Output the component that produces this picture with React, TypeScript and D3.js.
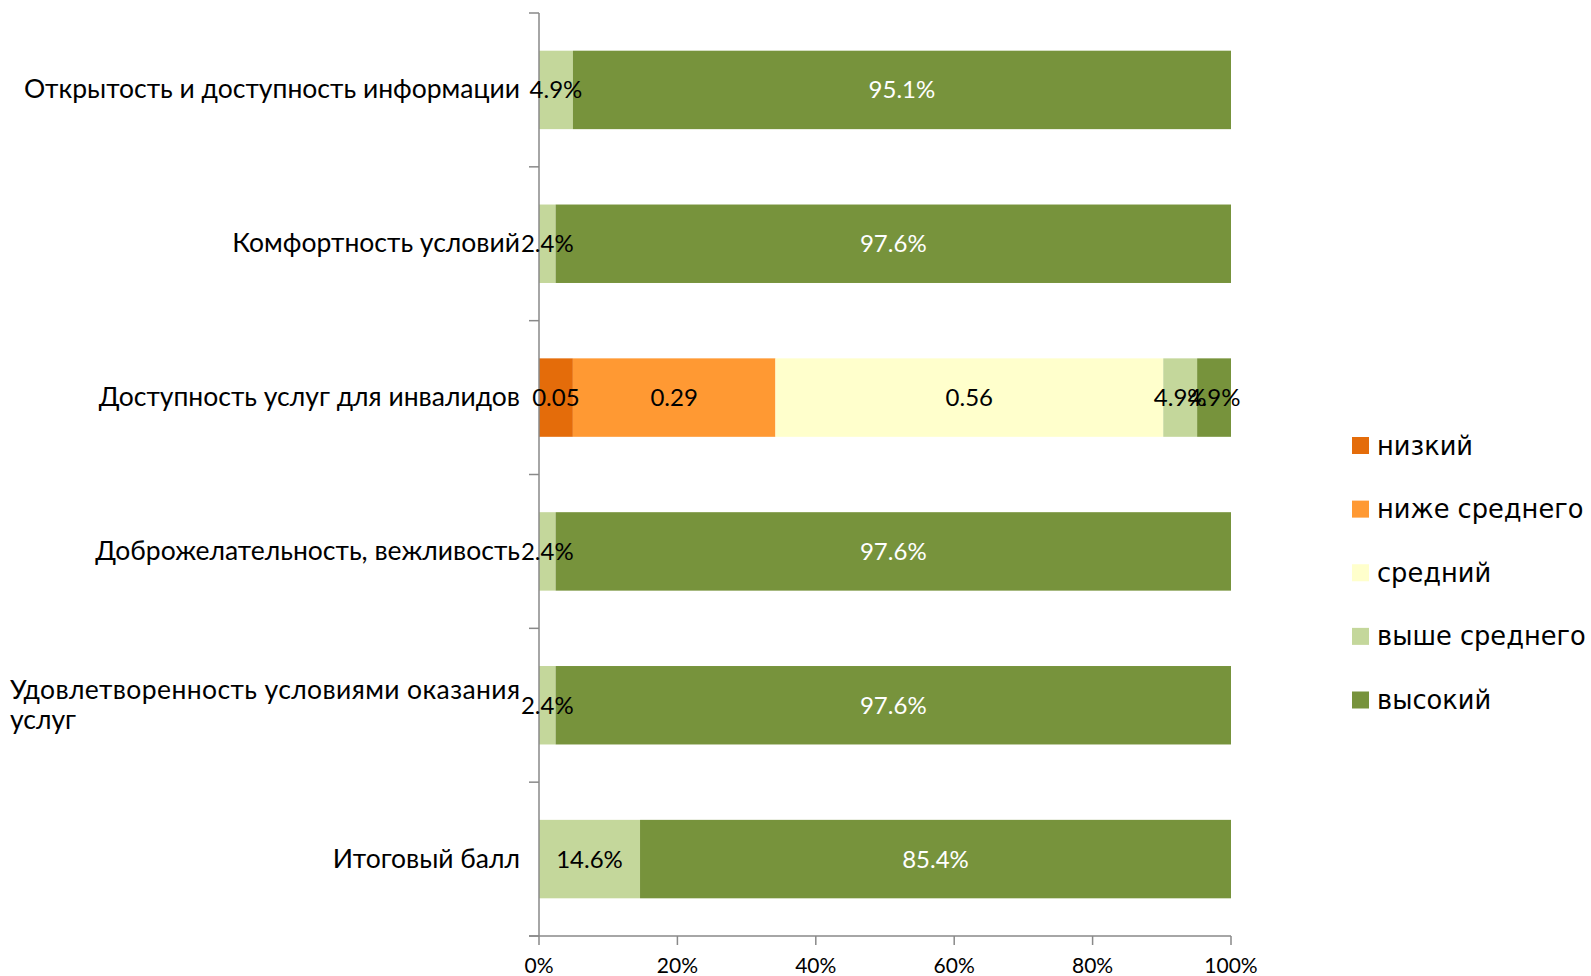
import React from 'react';
import * as d3 from 'd3';

const categories = [
  'Открытость и доступность информации',
  'Комфортность условий',
  'Доступность услуг для инвалидов',
  'Доброжелательность, вежливость',
  'Удовлетворенность условиями оказания\nуслуг',
  'Итоговый балл',
];
const seriesNames = ['низкий', 'ниже среднего', 'средний', 'выше среднего', 'высокий'];
const seriesColors = ['#E46C0A', '#FF9933', '#FFFFCC', '#C4D79B', '#77933C'];
const seriesFormats = ['.2f', '.2f', '.2f', '.1%', '.1%'];
const low = [0, 0, 0.049, 0, 0, 0];
const belowAvg = [0, 0, 0.293, 0, 0, 0];
const average = [0, 0, 0.561, 0, 0, 0];
const aboveAvg = [0.049, 0.024, 0.049, 0.024, 0.024, 0.146];
const high = [0.951, 0.976, 0.049, 0.976, 0.976, 0.854];
const xTicks = [0, 0.2, 0.4, 0.6, 0.8, 1];

const W = 1591;
const H = 976;
const margin = { left: 539, right: 360, top: 13, bottom: 40 };
const CAT_SIZE = 26.5;
const catFontFamily = 'Lato, Carlito, "Liberation Sans", sans-serif';
const legendFont = '"DejaVu Sans", sans-serif';
const AXIS = '#898989';

export default function App() {
  const series = [low, belowAvg, average, aboveAvg, high];
  const rows = categories.map((c, i) => {
    const vals = series.map((s) => s[i]);
    const total = d3.sum(vals);
    let acc = 0;
    return {
      cat: c,
      segs: vals.map((v, k) => {
        const x0 = acc / total;
        acc += v;
        return { k, v, x0, x1: acc / total };
      }),
    };
  });

  const x = d3.scaleLinear().domain([0, 1]).range([margin.left, 1231]);
  const y = d3
    .scaleBand<string>()
    .domain(categories)
    .range([margin.top, H - margin.bottom])
    .paddingInner(0.49)
    .paddingOuter(0.245);
  const step = y.step();
  const yBottom = H - margin.bottom;
  const boundaries = d3.range(categories.length + 1).map((i) => margin.top + i * step);
  const labelRight = 520;
  const labelLeft = 10;

  const legendY = d3
    .scalePoint<string>()
    .domain(seriesNames)
    .range([445.5, 700]);

  return (
    <svg
      width={W}
      height={H}
      style={{ position: 'absolute', left: 0, top: 0, background: '#fff' }}
    >
      {/* bars */}
      {rows.map((r) =>
        r.segs
          .filter((s) => s.v > 0)
          .map((s) => (
            <rect
              key={r.cat + s.k}
              x={x(s.x0)}
              y={y(r.cat)}
              width={x(s.x1) - x(s.x0)}
              height={y.bandwidth()}
              fill={seriesColors[s.k]}
            />
          ))
      )}
      {/* axes */}
      <line x1={margin.left} x2={margin.left} y1={margin.top} y2={yBottom} stroke={AXIS} strokeWidth={1.5} />
      {boundaries.map((b, i) => (
        <line key={'yt' + i} x1={margin.left - 10} x2={margin.left} y1={b} y2={b} stroke={AXIS} strokeWidth={1.5} />
      ))}
      <line x1={margin.left - 10} x2={x(1)} y1={yBottom} y2={yBottom} stroke={AXIS} strokeWidth={1.5} />
      {xTicks.map((t) => (
        <g key={'xt' + t}>
          <line x1={x(t)} x2={x(t)} y1={yBottom} y2={yBottom + 9} stroke={AXIS} strokeWidth={1.5} />
          <text
            x={x(t)}
            y={yBottom + 28}
            textAnchor="middle"
            dominantBaseline="central"
            fontFamily={catFontFamily}
            fontSize={21}
            fill="#000"
          >
            {d3.format('.0%')(t)}
          </text>
        </g>
      ))}
      {/* data labels */}
      {rows.map((r) =>
        r.segs
          .filter((s) => s.v > 0)
          .map((s) => (
            <text
              key={'l' + r.cat + s.k}
              x={(x(s.x0) + x(s.x1)) / 2}
              y={(y(r.cat) ?? 0) + y.bandwidth() / 2 - 1}
              textAnchor="middle"
              dominantBaseline="central"
              fontFamily={catFontFamily}
              fontSize={24}
              fill={s.k === 4 && s.v >= 0.5 ? '#fff' : '#000'}
            >
              {d3.format(seriesFormats[s.k])(s.v)}
            </text>
          ))
      )}
      {/* category labels */}
      {categories.map((c) => {
        const lines = c.split('\n');
        const cy = (y(c) ?? 0) + y.bandwidth() / 2 - 1.5;
        const lh = 30;
        const multi = lines.length > 1;
        return (
          <text
            key={'c' + c}
            fontFamily={catFontFamily}
            fontSize={CAT_SIZE}
            fill="#000"
            dominantBaseline="central"
          >
            {lines.map((ln, j) => (
              <tspan
                key={j}
                x={multi ? labelLeft : labelRight}
                textAnchor={multi ? 'start' : 'end'}
                y={cy + (j - (lines.length - 1) / 2) * lh}
                {...(multi && j === 0
                  ? { textLength: labelRight - labelLeft, lengthAdjust: 'spacing' }
                  : {})}
              >
                {ln}
              </tspan>
            ))}
          </text>
        );
      })}
      {/* legend */}
      {seriesNames.map((n, k) => (
        <g key={'lg' + n} transform={`translate(1352, ${legendY(n)})`}>
          <rect x={0} y={-8.5} width={17} height={17} fill={seriesColors[k]} />
          <text x={25} y={0} dominantBaseline="central" fontFamily={legendFont} fontSize={25.7} fill="#000">
            {n}
          </text>
        </g>
      ))}
    </svg>
  );
}
